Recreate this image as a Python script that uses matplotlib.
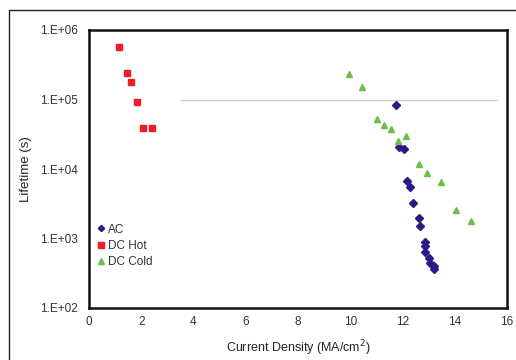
import matplotlib
matplotlib.use("Agg")
import matplotlib.pyplot as plt
from matplotlib.patches import Rectangle

plt.rcParams['font.family'] = ['Liberation Sans', 'DejaVu Sans']

# Data
ac_x = [11.74, 11.88, 12.06, 12.17, 12.29, 12.39, 12.64, 12.66, 12.85, 12.85, 12.85, 13.03, 13.06, 13.21, 13.21]
ac_y = [8.3e4, 2.05e4, 1.96e4, 6.8e3, 5.6e3, 3.2e3, 2.0e3, 1.5e3, 9.0e2, 7.9e2, 6.3e2, 5.3e2, 4.4e2, 4.0e2, 3.7e2]

hot_x = [1.15, 1.45, 1.61, 1.85, 2.07, 2.41]
hot_y = [5.7e5, 2.4e5, 1.8e5, 9.3e4, 3.9e4, 3.9e4]

cold_x = [9.96, 10.46, 11.01, 11.29, 11.56, 12.12, 11.84, 12.64, 12.93, 13.49, 14.05, 14.62]
cold_y = [2.3e5, 1.5e5, 5.3e4, 4.3e4, 3.8e4, 3.0e4, 2.55e4, 1.17e4, 8.9e3, 6.6e3, 2.6e3, 1.8e3]

x_ticks = [0, 2, 4, 6, 8, 10, 12, 14, 16]
y_ticks = [1e2, 1e3, 1e4, 1e5, 1e6]
y_tick_labels = ["1.E+02", "1.E+03", "1.E+04", "1.E+05", "1.E+06"]

fig = plt.figure(figsize=(5.16, 3.6), dpi=100)
# outer frame
fig.patches.append(Rectangle((9/516, -0.05), 1.1, 1 - 10/360 + 0.05, transform=fig.transFigure,
                             fill=False, edgecolor='#222222', linewidth=1.0))

ax = fig.add_axes([89/516, 1 - 308/360, (507 - 89)/516, (308 - 30)/360])
ax.set_yscale('log')
ax.set_xlim(0, 16)
ax.set_ylim(1e2, 1e6)

ax.hlines(1e5, 3.5, 15.6, color='#cccccc', linewidth=1.0, zorder=1)

ax.plot(ac_x, ac_y, linestyle='none', marker='D', markersize=4.0, color='#2E1A87', label='AC', zorder=3)
ax.plot(hot_x, hot_y, linestyle='none', marker='s', markersize=5.0, color='#EE1C25', label='DC Hot', zorder=3)
ax.plot(cold_x, cold_y, linestyle='none', marker='^', markersize=5.0, color='#6DBE45', label='DC Cold', zorder=3)

ax.set_xticks(x_ticks)
ax.set_xticklabels([str(v) for v in x_ticks])
ax.set_yticks(y_ticks)
ax.set_yticklabels(y_tick_labels)
ax.minorticks_off()
ax.tick_params(axis='both', length=0, labelsize=8.5, labelcolor='#333333', pad=8)
ax.tick_params(axis='x', pad=6)

for s in ax.spines.values():
    s.set_linewidth(1.8)
    s.set_color('#111111')

ax.set_xlabel('Current Density (MA/cm$^2$)', fontsize=9, color='#222222', labelpad=7)
ax.set_ylabel('Lifetime (s)', fontsize=9.5, color='#222222', labelpad=6)

leg = ax.legend(loc='lower left', bbox_to_anchor=(0.0, 0.115), frameon=False, fontsize=8.5,
                handlelength=0.6, handletextpad=0.3, labelspacing=0.35, markerscale=0.8,
                borderaxespad=0.3)
for t in leg.get_texts():
    t.set_color('#333333')

fig.savefig('out.png', dpi=100)
